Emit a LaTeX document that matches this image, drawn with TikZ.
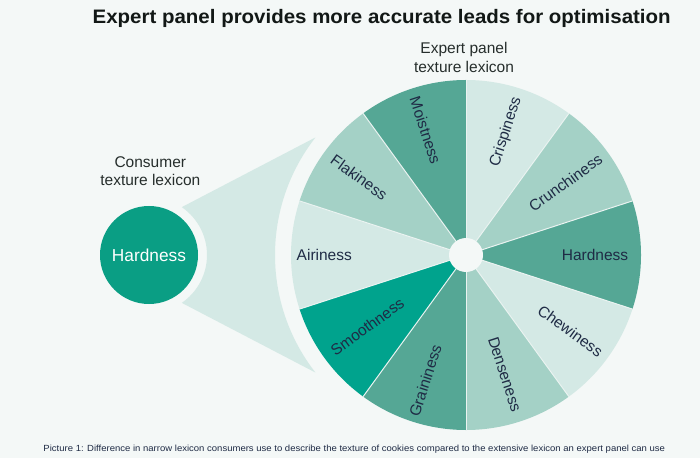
\documentclass[tikz,border=0pt]{standalone}
\usepackage{fontspec}
\setmainfont{Liberation Sans}
\usetikzlibrary{calc}
\definecolor{bg}{HTML}{F4F8F7}
\definecolor{segL}{HTML}{D4E9E5}
\definecolor{segM}{HTML}{A4D1C6}
\definecolor{segD}{HTML}{55A795}
\definecolor{segS}{HTML}{00A38D}
\definecolor{hardc}{HTML}{0A9E84}
\definecolor{navy}{HTML}{1F2B45}
\definecolor{ink}{HTML}{262E2C}
\definecolor{titleink}{HTML}{121816}
\definecolor{sepc}{HTML}{EAF3F1}
\begin{document}
\begin{tikzpicture}[x=1pt,y=1pt,
  lbl/.style={font=\fontsize{15.5}{18}\selectfont, text=navy, inner sep=0pt, anchor=center},
  headtxt/.style={font=\fontsize{15.5}{18}\selectfont, text=ink, inner sep=0pt, anchor=base},
  sepline/.style={draw=sepc, line width=1pt}]
\fill[bg] (0,0) rectangle (700,458);
\useasboundingbox (0,0) rectangle (700,458);
\coordinate (W) at (466,203);
\coordinate (C) at (149,203);
% cone
\fill[segL] ($(C)+(55.6:58)$) arc[start angle=55.6,end angle=-55.6,radius=58]
  -- ($(W)+(218:191)$) arc[start angle=218,end angle=142,radius=191] -- cycle;
% wheel segments
\foreach \a/\c in {54/segL, 18/segM, -18/segD, -54/segL, -90/segM, -126/segD, -162/segS, 162/segL, 126/segM, 90/segD}
  \fill[\c] (W) -- ($(W)+(\a:175)$) arc[start angle=\a, end angle=\a+36, radius=175] -- cycle;
\foreach \a in {18,54,...,342}
  \draw[sepline] (W) -- ($(W)+(\a:175)$);
\node[circle, fill=bg, minimum size=34pt, inner sep=0pt] (hub) at (W) {};
% labels
\node[lbl, rotate=72]  (crisp)  at ($(W)+(72:129.3)$)  {Crispiness};
\node[lbl, rotate=36]  (crunch) at ($(W)+(36:123)$)    {Crunchiness};
\node[lbl, rotate=0]   (hard)   at ($(W)+(0:129)$)     {Hardness};
\node[lbl, rotate=-36] (chew)   at ($(W)+(-36:129)$)   {Chewiness};
\node[lbl, rotate=-72] (dense)  at ($(W)+(-72:125.4)$) {Denseness};
\node[lbl, rotate=72]  (grain)  at ($(W)+(252:132)$)   {Graininess};
\node[lbl, rotate=36]  (smooth) at ($(W)+(216:122)$)   {Smoothness};
\node[lbl, rotate=0]   (airy)   at ($(W)+(180:141.7)$) {Airiness};
\node[lbl, rotate=-36] (flaky)  at ($(W)+(144:132)$)   {Flakiness};
\node[lbl, rotate=-72] (moist)  at ($(W)+(108:131)$)   {Moistness};
% consumer circle
\node[circle, fill=hardc, minimum size=98pt, inner sep=0pt, text=white,
      font=\fontsize{17.3}{20}\selectfont] (cons) at (C) {Hardness};
% headings
\node[headtxt] (consA) at (150.3,290.7) {Consumer};
\node[headtxt] (consB) at (150.3,272) {texture lexicon};
\node[headtxt] (expA) at (464,404.7) {Expert panel};
\node[headtxt] (expB) at (464,385.3) {texture lexicon};
\node[inner sep=0pt, anchor=base, text=titleink] (title) at (381.7,434.7)
  {\scalebox{1.05}[1]{\fontsize{19.5}{23}\selectfont\bfseries Expert panel provides more accurate leads for optimisation}};
\node[inner sep=0pt, anchor=base, text=navy] (cap) at (354.3,6.3)
  {\scalebox{1.07}[1]{\fontsize{8.9}{10}\selectfont Picture 1: Difference in narrow lexicon consumers use to describe the texture of cookies compared to the extensive lexicon an expert panel can use}};
\end{tikzpicture}
\end{document}
